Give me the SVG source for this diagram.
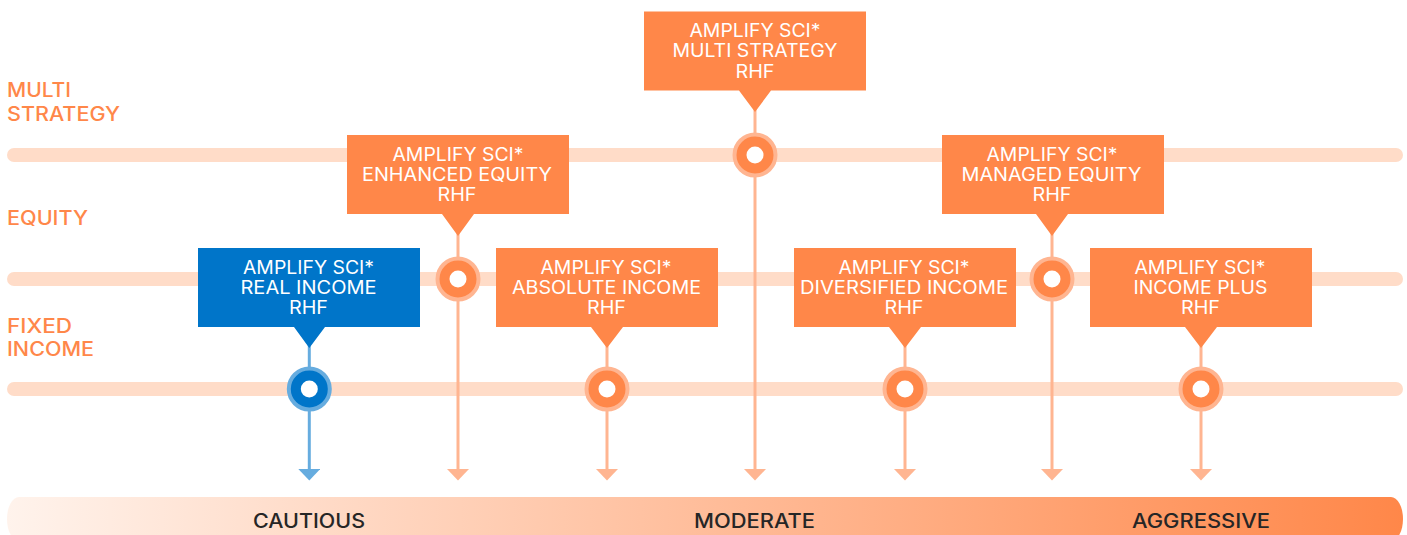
<svg xmlns="http://www.w3.org/2000/svg" width="1407" height="535" viewBox="0 0 1407 535">
<style>
text{font-family:Inter,"Liberation Sans",sans-serif}
.bar{fill:#FFDCC8}
.box{fill:#FF8749}
.bbox{fill:#0075C9}
.l{fill:#fff;font-size:18px;text-anchor:middle}
.side{fill:#FF8749;font-size:19.5px;font-weight:500}
.scale{fill:#262626;font-size:19.5px;font-weight:500}
.c{fill:none;stroke:#FFB591;stroke-width:3}
.cb{fill:none;stroke:#66ACDF;stroke-width:3}
.ring{fill:#FF8749;stroke:#FFB591;stroke-width:4}
.bring{fill:#0075C9;stroke:#66ACDF;stroke-width:4}
.hole{fill:#fff}
</style>
<defs>
<linearGradient id="g" x1="0" x2="1" y1="0" y2="0"><stop offset="0" stop-color="#FFF3EC"/><stop offset="1" stop-color="#FF8749"/></linearGradient>
<marker id="a" markerUnits="userSpaceOnUse" markerWidth="22" markerHeight="12" refX="10.5" refY="0" viewBox="0 0 21 11"><path d="M0 0H21L10.5 11Z" fill="#FFB591"/></marker>
<marker id="ab" markerUnits="userSpaceOnUse" markerWidth="22" markerHeight="12" refX="10.5" refY="0" viewBox="0 0 21 11"><path d="M0 0H21L10.5 11Z" fill="#66ACDF"/></marker>
</defs>
<g id="tracks">
<rect class="bar" x="7" y="148" width="1396" height="14" rx="7"/>
<rect class="bar" x="7" y="272" width="1396" height="14" rx="7"/>
<rect class="bar" x="7" y="382" width="1396" height="14" rx="7"/>
</g>
<g id="side-labels">
<text class="side" x="7" y="97" textLength="64" lengthAdjust="spacingAndGlyphs">MULTI</text>
<text class="side" x="7" y="121" textLength="113" lengthAdjust="spacingAndGlyphs">STRATEGY</text>
<text class="side" x="7" y="225" textLength="81" lengthAdjust="spacingAndGlyphs">EQUITY</text>
<text class="side" x="7" y="333" textLength="65" lengthAdjust="spacingAndGlyphs">FIXED</text>
<text class="side" x="7" y="356" textLength="87" lengthAdjust="spacingAndGlyphs">INCOME</text>
</g>
<g id="connectors">
<path class="c" d="M755 100V469" marker-end="url(#a)"/>
<path class="c" d="M458 224V469" marker-end="url(#a)"/>
<path class="c" d="M1052 224V469" marker-end="url(#a)"/>
<path class="cb" d="M309.300 337V469" marker-end="url(#ab)"/>
<path class="c" d="M607 337V469" marker-end="url(#a)"/>
<path class="c" d="M905 337V469" marker-end="url(#a)"/>
<path class="c" d="M1201 337V469" marker-end="url(#a)"/>
</g>
<g id="multi-strategy">
<circle class="ring" cx="755" cy="155" r="20.500"/><circle class="hole" cx="755" cy="155" r="8.500"/>
<path class="box" d="M644 11.500H866V90.500H771L755 112L739 90.500H644Z"/>
<text class="l" x="755" y="37" textLength="131" lengthAdjust="spacingAndGlyphs">AMPLIFY SCI*</text>
<text class="l" x="755" y="57" textLength="165" lengthAdjust="spacingAndGlyphs">MULTI STRATEGY</text>
<text class="l" x="755" y="77.500" textLength="39" lengthAdjust="spacingAndGlyphs">RHF</text>
</g>
<g id="enhanced-equity">
<circle class="ring" cx="458" cy="279" r="20.500"/><circle class="hole" cx="458" cy="279" r="8.500"/>
<path class="box" d="M347 135H569V214H474L458 236L442 214H347Z"/>
<text class="l" x="458" y="160.500" textLength="131" lengthAdjust="spacingAndGlyphs">AMPLIFY SCI*</text>
<text class="l" x="457" y="180.500" textLength="190" lengthAdjust="spacingAndGlyphs">ENHANCED EQUITY</text>
<text class="l" x="457" y="201" textLength="39" lengthAdjust="spacingAndGlyphs">RHF</text>
</g>
<g id="managed-equity">
<circle class="ring" cx="1052" cy="279" r="20.500"/><circle class="hole" cx="1052" cy="279" r="8.500"/>
<path class="box" d="M942 135H1164V214H1068L1052 236L1036 214H942Z"/>
<text class="l" x="1052" y="160.500" textLength="131" lengthAdjust="spacingAndGlyphs">AMPLIFY SCI*</text>
<text class="l" x="1051.500" y="180.500" textLength="180" lengthAdjust="spacingAndGlyphs">MANAGED EQUITY</text>
<text class="l" x="1052" y="201" textLength="39" lengthAdjust="spacingAndGlyphs">RHF</text>
</g>
<g id="real-income">
<circle class="bring" cx="309.300" cy="389" r="20.500"/><circle class="hole" cx="309.300" cy="389" r="8.500"/>
<path class="bbox" d="M198 248H420V327H325L309.300 348L294 327H198Z"/>
<text class="l" x="308.500" y="273.500" textLength="131" lengthAdjust="spacingAndGlyphs">AMPLIFY SCI*</text>
<text class="l" x="308.500" y="294" textLength="136" lengthAdjust="spacingAndGlyphs">REAL INCOME</text>
<text class="l" x="308.500" y="314" textLength="39" lengthAdjust="spacingAndGlyphs">RHF</text>
</g>
<g id="absolute-income">
<circle class="ring" cx="607" cy="389" r="20.500"/><circle class="hole" cx="607" cy="389" r="8.500"/>
<path class="box" d="M496 248H718V327H623L607 348L591 327H496Z"/>
<text class="l" x="606" y="273.500" textLength="131" lengthAdjust="spacingAndGlyphs">AMPLIFY SCI*</text>
<text class="l" x="606.500" y="294" textLength="189" lengthAdjust="spacingAndGlyphs">ABSOLUTE INCOME</text>
<text class="l" x="606.500" y="314" textLength="39" lengthAdjust="spacingAndGlyphs">RHF</text>
</g>
<g id="diversified-income">
<circle class="ring" cx="905" cy="389" r="20.500"/><circle class="hole" cx="905" cy="389" r="8.500"/>
<path class="box" d="M794 248H1016V327H921L905 348L889 327H794Z"/>
<text class="l" x="904" y="273.500" textLength="131" lengthAdjust="spacingAndGlyphs">AMPLIFY SCI*</text>
<text class="l" x="904" y="294" textLength="208" lengthAdjust="spacingAndGlyphs">DIVERSIFIED INCOME</text>
<text class="l" x="904" y="314" textLength="39" lengthAdjust="spacingAndGlyphs">RHF</text>
</g>
<g id="income-plus">
<circle class="ring" cx="1201" cy="389" r="20.500"/><circle class="hole" cx="1201" cy="389" r="8.500"/>
<path class="box" d="M1090 248H1312V327H1217L1201 348L1185 327H1090Z"/>
<text class="l" x="1200" y="273.500" textLength="131" lengthAdjust="spacingAndGlyphs">AMPLIFY SCI*</text>
<text class="l" x="1200.500" y="294" textLength="134" lengthAdjust="spacingAndGlyphs">INCOME PLUS</text>
<text class="l" x="1200.500" y="314" textLength="39" lengthAdjust="spacingAndGlyphs">RHF</text>
</g>
<g id="risk-scale">
<rect x="7" y="497" width="1396" height="44" rx="12" ry="22" fill="url(#g)"/>
<text class="scale" x="253" y="528" textLength="112" lengthAdjust="spacingAndGlyphs">CAUTIOUS</text>
<text class="scale" x="694" y="528" textLength="121" lengthAdjust="spacingAndGlyphs">MODERATE</text>
<text class="scale" x="1132" y="528" textLength="138" lengthAdjust="spacingAndGlyphs">AGGRESSIVE</text>
</g>
</svg>
